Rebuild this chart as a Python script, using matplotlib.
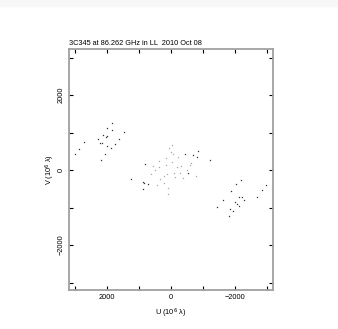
import matplotlib
matplotlib.use("Agg")
import matplotlib.pyplot as plt
from matplotlib.ticker import MultipleLocator

plt.rcParams['font.family'] = ['Liberation Sans', 'DejaVu Sans']

title = "3C345 at 86.262 GHz in LL  2010 Oct 08"

# outer (long baseline) points, darker
u_dark = [2990, 2865, 2709, 2271, 2219, 2188, 2136, 2146, 2063, 2042, 1990, 2011, 1990,
          1886, 1844, 1834, 1750, 1625, 1459,
          -1448, -1615, -1803, -1834, -1875, -1948, -1990, -2032, -2073, -2115, -2136,
          -2178, -2229, -2271, -2688, -2844, -2969,
          1240, 886, 865, 813, 834, 709, -802, -844, -1230, -698, -542, -438]
v_dark = [436, 560, 738, 818, 711, 276, 942, 729, 418, 889, 1111, 916, 649,
          596, 1245, 1067, 685, 818, 1005,
          -987, -800, -1227, -1049, -569, -1093, -853, -382, -916, -711, -951,
          -267, -711, -800, -729, -542, -409,
          -249, -311, -498, 169, -347, -373, 356, 507, 267, 400, -89, 418]

# inner (short baseline) points, lighter
u_light = [636, 573, 448, 386, 375, 344, 219, 209, 167, 156, 135, 104, 83, 52, 10, -21,
           -42, -73, -104, -125, -177, -208, -281, -323, -365, -594, -636, -782, 500, -500]
v_light = [-116, 116, -400, 240, 89, -240, -151, -338, 320, 142, -116, -471, -649, 587, 489, 658,
           213, 427, -71, -178, 89, 356, -89, 116, -222, 133, 178, -151, 12, -12]

fig = plt.figure(figsize=(3.38, 3.29), dpi=100)
fig.patches.append(matplotlib.patches.Rectangle((0, 1 - 6/329), 1, 6/329, transform=fig.transFigure,
                                                color='#f7f7f7', zorder=-1))
ax = fig.add_axes([69/338, 39/329, 204/338, 241/329])

ax.plot(u_dark, v_dark, linestyle='none', marker='s', markersize=0.9, markeredgewidth=0,
        color='#333333')
ax.plot(u_light, v_light, linestyle='none', marker='s', markersize=0.9, markeredgewidth=0,
        color='#a8a8a8')

ax.set_xlim(3187, -3187)
ax.set_ylim(-3200, 3227)
ax.xaxis.set_major_locator(MultipleLocator(2000))
ax.yaxis.set_major_locator(MultipleLocator(2000))
ax.xaxis.set_minor_locator(MultipleLocator(1000))
ax.yaxis.set_minor_locator(MultipleLocator(1000))
ax.tick_params(which='both', direction='in', top=True, right=True, labelsize=5.3, color='black',
               width=0.8, pad=3)
ax.tick_params(which='major', length=3)
ax.tick_params(which='minor', length=3)
for t in ax.get_yticklabels():
    t.set_rotation(90)
    t.set_va('center')
for s in ax.spines.values():
    s.set_color('#a0a0a0')
    s.set_linewidth(1.3)

ax.set_title(title, fontsize=5.3, loc='left', pad=3)
ax.set_xlabel(r"U (10$^6$ λ)", fontsize=5.3)
ax.set_ylabel(r"V (10$^6$ λ)", fontsize=5.3)
ax.yaxis.set_label_coords(-0.09, 0.5)
ax.xaxis.set_label_coords(0.5, -0.095)
ax.xaxis.label.set_va('center')
ax.yaxis.label.set_va('center')

fig.savefig("out.png", dpi=100)
